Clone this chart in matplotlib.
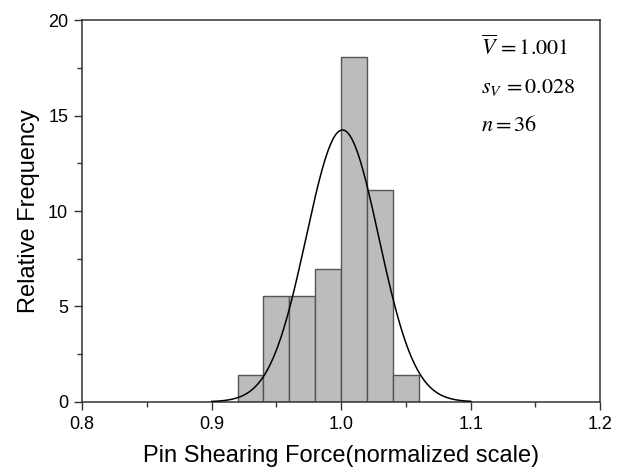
import numpy as np
import matplotlib
matplotlib.use("Agg")
import matplotlib.pyplot as plt
from matplotlib.ticker import MultipleLocator

plt.rcParams["font.family"] = ["Liberation Sans", "DejaVu Sans"]
plt.rcParams["mathtext.fontset"] = "stix"

# histogram data (bin edges and relative frequency)
bin_left = [0.92, 0.94, 0.96, 0.98, 1.00, 1.02, 1.04]
bin_width = 0.02
rel_freq = [1.39, 5.56, 5.56, 6.94, 18.06, 11.11, 1.39]

# fitted normal distribution parameters shown in the chart
v_mean = 1.001
s_v = 0.028
n_samples = 36

fig, ax = plt.subplots(figsize=(6.22, 4.70), dpi=100)
fig.subplots_adjust(left=0.132, right=0.965, top=0.957, bottom=0.145)

ax.bar(bin_left, rel_freq, width=bin_width, align="edge",
       color="#bcbcbc", edgecolor="#555555", linewidth=1.0, zorder=2)

# normal fit curve
x = np.linspace(0.9, 1.1, 400)
y = np.exp(-0.5 * ((x - v_mean) / s_v) ** 2) / (s_v * np.sqrt(2 * np.pi))
ax.plot(x, y, color="black", linewidth=1.1, zorder=3)

ax.set_xlim(0.8, 1.2)
ax.set_ylim(0, 20)
ax.xaxis.set_major_locator(MultipleLocator(0.1))
ax.xaxis.set_minor_locator(MultipleLocator(0.05))
ax.yaxis.set_major_locator(MultipleLocator(5))
ax.yaxis.set_minor_locator(MultipleLocator(2.5))
ax.xaxis.set_major_formatter(plt.FuncFormatter(lambda v, p: f"{v:.1f}"))
ax.tick_params(which="major", direction="out", length=6, width=1, labelsize=13,
               color="#333333", pad=4)
ax.tick_params(which="minor", direction="out", length=3.5, width=1, color="#333333")
for sp in ax.spines.values():
    sp.set_color("#333333")
    sp.set_linewidth(1.1)

ax.set_xlabel("Pin Shearing Force(normalized scale)", fontsize=17, labelpad=9)
ax.set_ylabel("Relative Frequency", fontsize=17, labelpad=6)

ax.text(0.77, 0.908, r"$\overline{V}\,=1.001$", transform=ax.transAxes, fontsize=16)
ax.text(0.77, 0.809, r"$s_V\,=0.028$", transform=ax.transAxes, fontsize=16)
ax.text(0.77, 0.709, r"$n=36$", transform=ax.transAxes, fontsize=16)

fig.savefig("out.png", dpi=100)
